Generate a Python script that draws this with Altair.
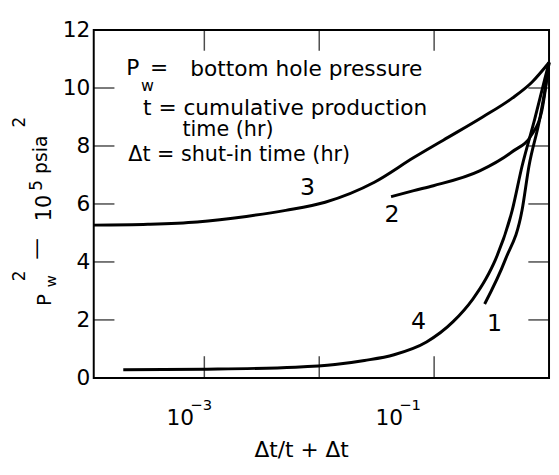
import altair as alt
import pandas as pd

# ---- data (x = Δt/(t+Δt), y = Pw² in 10^5 psia²) ----
c3_x = [1.09e-4, 3.23e-4, 8.66e-4, 2.32e-3, 5.11e-3, 0.01125, 0.0302, 0.0665, 0.1201, 0.2645, 0.478, 0.7096, 1.0]
c3_y = [5.27, 5.30, 5.38, 5.57, 5.78, 6.06, 6.75, 7.6, 8.2, 9.0, 9.65, 10.2, 10.88]
c2_x = [0.0422, 0.0665, 0.0986, 0.2492, 0.478, 0.7096, 0.8641, 1.0]
c2_y = [6.25, 6.46, 6.63, 7.14, 7.8, 8.4, 9.2, 10.88]
c4_x = [1.97e-4, 1e-3, 0.00622, 0.01371, 0.02478, 0.0448, 0.0859, 0.1463, 0.2172, 0.2807,
        0.3418, 0.478, 0.5822, 0.7525, 0.9169, 1.0]
c4_y = [0.28, 0.30, 0.37, 0.46, 0.60, 0.80, 1.24, 1.94, 2.72, 3.40, 4.08, 5.78, 7.3, 8.94, 10.3, 10.88]
c1_x = [0.2752, 0.4165, 0.5822, 0.6686, 0.8309, 0.9537, 1.0]
c1_y = [2.55, 4.08, 5.78, 7.3, 8.94, 10.3, 10.88]

curve_names = ["1", "2", "3", "4"]
label_x = [0.335, 0.0431, 0.00789, 0.0733]
label_y = [1.87, 5.61, 6.56, 1.94]

x_tick_vals = [0.001, 0.01, 0.1]
y_tick_vals = [2, 4, 6, 8, 10]
x_label_vals = [0.001, 0.1]
x_label_exp = ["−3", "−1"]
y_label_vals = [0, 2, 4, 6, 8, 10, 12]

FONT = "DejaVu Sans"
W, H = 462, 353

rows = []
for name, xs, ys in zip(curve_names, [c1_x, c2_x, c3_x, c4_x], [c1_y, c2_y, c3_y, c4_y]):
    for i, (a, b) in enumerate(zip(xs, ys)):
        rows.append({"curve": name, "x": a, "y": b, "order": i})
df = pd.DataFrame(rows)
lab_df = pd.DataFrame({"t": curve_names, "x": label_x, "y": label_y})

xscale = alt.Scale(type="log", domain=[1.09e-4, 1.0], nice=False)
yscale = alt.Scale(domain=[0, 12], nice=False, zero=False)

xaxis = alt.Axis(
    values=x_label_vals, labelExpr="'10'", ticks=False, tickSize=0, domain=False,
    grid=False, labelFont=FONT, labelFontSize=22, labelColor="black", labelPadding=30,
    labelOffset={"condition": {"test": "datum.value < 0.01", "value": -25}, "value": -46},
    title=None, labelFlush=False, labelOverlap=False)
yaxis = alt.Axis(
    values=y_label_vals, ticks=False, tickSize=0, domain=False, grid=False,
    labelFont=FONT, labelFontSize=22, labelColor="black", labelPadding=4,
    title=None, labelFlush=False, labelOverlap=False)


def X(field):
    return alt.X(field, scale=xscale, axis=xaxis)


def Y(field):
    return alt.Y(field, scale=yscale, axis=yaxis)


lines = alt.Chart(df).mark_line(color="black", strokeWidth=3, interpolate="monotone").encode(
    x=X("x:Q"), y=Y("y:Q"), detail="curve:N", order="order:Q",
)

xt = alt.Chart(pd.DataFrame({"v": x_tick_vals}))
yt = alt.Chart(pd.DataFrame({"v": y_tick_vals}))
tick_style = dict(color="black", thickness=1.5)
bottom_ticks = xt.mark_tick(orient="vertical", size=22, **tick_style).encode(
    x=X("v:Q"), y=alt.value(H - 11))
top_ticks = xt.mark_tick(orient="vertical", size=21, **tick_style).encode(
    x=X("v:Q"), y=alt.value(10.5))
left_ticks = yt.mark_tick(orient="horizontal", size=21, **tick_style).encode(
    y=Y("v:Q"), x=alt.value(10.5))
right_ticks = yt.mark_tick(orient="horizontal", size=21, **tick_style).encode(
    y=Y("v:Q"), x=alt.value(W - 10.5))

curve_labels = alt.Chart(lab_df).mark_text(font=FONT, fontSize=24, align="center",
                                           baseline="middle", color="black").encode(
    x=X("x:Q"), y=Y("y:Q"), text="t:N",
)


def txt(text, x, y, size, angle=0, align="left"):
    return alt.Chart(alt.Data(values=[{}])).mark_text(
        text=text, font=FONT, fontSize=size, angle=angle, align=align,
        baseline="alphabetic", color="black").encode(x=alt.value(x), y=alt.value(y))


notes = [
    txt("P", 33, 46, 22),
    txt("w", 48, 62, 16),
    txt("=", 57, 46, 22),
    txt("bottom hole pressure", 98, 47, 22),
    txt("t = cumulative production", 50, 86, 22),
    txt("time (hr)", 90, 108, 21),
    txt("Δt = shut-in time (hr)", 35, 133, 21),
    # exponents of the x tick labels
    txt(x_label_exp[0], 98, 386, 15),
    txt(x_label_exp[1], 310, 386, 15),
    # x-axis title
    txt("Δt/t + Δt", 211, 433, 22, align="center"),
    # y-axis title pieces (rotated)
    txt("P", -43, 280, 20, angle=270),
    txt("w", -38, 261, 15, angle=270),
    txt("2", -70, 255, 17, angle=270),
    txt("—", -51, 233, 22, angle=270),
    txt("10", -43, 194, 21, angle=270),
    txt("5", -52, 163, 17, angle=270),
    txt("psia", -47, 146, 19, angle=270),
    txt("2", -70, 99, 17, angle=270),
]

chart = alt.layer(lines, bottom_ticks, top_ticks, left_ticks, right_ticks, curve_labels, *notes).properties(
    width=W, height=H,
    autosize=alt.AutoSizeParams(type="none"),
    padding={"left": 87, "top": 19, "right": 2, "bottom": 83},
).configure_view(stroke="black", strokeWidth=2)

chart.save("out.html", embed_options={"renderer": "svg", "actions": False})
